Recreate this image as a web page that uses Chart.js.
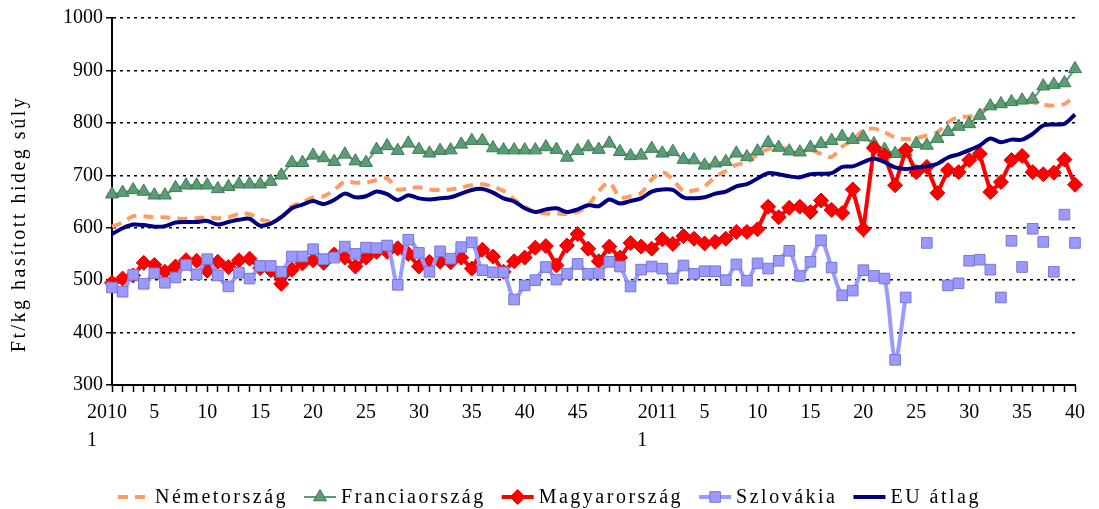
<!DOCTYPE html>
<html>
<head>
<meta charset="utf-8">
<script src="https://cdn.jsdelivr.net/npm/chart.js@4.4.0/dist/chart.umd.min.js"></script>
<style>
  html, body { margin: 0; padding: 0; background: #fff; }
  #wrap { width: 1099px; height: 509px; }
</style>
</head>
<body>
<div id="wrap"><canvas id="grafikon"></canvas></div>
<script>
// hetek: 2010/1 - 2011/40
var hetek = [
  '2010 1', '', '', '', '5', '', '', '', '', '10',
  '', '', '', '', '15', '', '', '', '', '20',
  '', '', '', '', '25', '', '', '', '', '30',
  '', '', '', '', '35', '', '', '', '', '40',
  '', '', '', '', '45', '', '', '', '', '',
  '', '', '2011 1', '', '', '', '5', '', '', '',
  '', '10', '', '', '', '', '15', '', '', '',
  '', '20', '', '', '', '', '25', '', '', '',
  '', '30', '', '', '', '', '35', '', '', '',
  '', '40'
];

var nemet = [
  602, 610, 622, 622, 620, 620, 618, 617, 618, 620,
  618, 620, 626, 626, 616, 613, 621, 641, 648, 658,
  660, 672, 688, 686, 686, 691, 694, 673, 675, 677,
  673, 672, 673, 677, 681, 683, 678, 670, 654, 640,
  630, 627, 627, 626, 630, 643, 670, 686, 658, 660,
  666, 692, 706, 692, 670, 671, 679, 697, 708, 720,
  724, 740, 750, 752, 750, 744, 748, 741, 735, 755,
  767, 786, 789, 782, 772, 769, 771, 776, 782, 801,
  811, 812, 820, 830, 835, 839, 843, 839, 835, 833,
  836, 852
];

var francia = [
  664, 667, 672, 669, 662, 662, 676, 681, 681, 681,
  674, 678, 683, 683, 683, 688, 700, 724, 724, 738,
  733, 726, 740, 727, 724, 749, 756, 747, 761, 749,
  742, 747, 748, 759, 766, 766, 752, 748, 748, 748,
  748, 754, 749, 734, 747, 754, 749, 761, 745, 737,
  738, 751, 742, 745, 730, 729, 719, 723, 726, 742,
  735, 746, 762, 753, 746, 744, 753, 760, 766, 774,
  768, 773, 760, 749, 741, 744, 760, 757, 770, 783,
  793, 798, 814, 832, 836, 840, 843, 845, 870, 873,
  876, 903
];

var magyar = [
  495, 503, 509, 533, 529, 516, 526, 538, 537, 518,
  535, 525, 538, 541, 523, 519, 493, 520, 532, 538,
  533, 549, 543, 526, 543, 554, 554, 561, 550, 526,
  535, 535, 534, 543, 522, 558, 545, 516, 536, 543,
  562, 565, 528, 566, 588, 560, 536, 564, 543, 571,
  564, 560, 578, 569, 584, 579, 570, 573, 579, 592,
  592, 597, 640, 620, 638, 640, 630, 652, 634, 628,
  673, 597, 752, 738, 681, 748, 706, 716, 666, 710,
  706, 729, 741, 668, 687, 729, 737, 706, 702, 705,
  730, 682
];

var szlovak = [
  486, 478, 510, 493, 513, 495, 505, 529, 511, 540,
  509, 488, 514, 503, 527, 527, 516, 545, 545, 559,
  540, 543, 564, 550, 562, 561, 566, 491, 577, 552,
  516, 555, 541, 563, 572, 519, 515, 515, 463, 490,
  500, 525, 501, 512, 531, 512, 513, 535, 526, 488,
  520, 526, 522, 503, 528, 512, 517, 517, 500, 530,
  499, 532, 522, 537, 556, 508, 535, 576, 524, 471,
  480, 519, 508, 503, 348, 467, null, 571, null, 490,
  494, 537, 539, 520, 467, 575, 525, 598, 573, 516,
  625, 571
];

var euAtlag = [
  588, 599, 606, 605, 602, 603, 610, 611, 611, 613,
  606, 611, 615, 617, 604, 608, 620, 637, 644, 651,
  645, 653, 665, 658, 660, 669, 664, 653, 662, 656,
  654, 656, 658, 665, 672, 674, 667, 656, 650, 637,
  630, 635, 637, 630, 635, 643, 641, 654, 646, 651,
  656, 669, 673, 672, 658, 656, 658, 665, 669, 679,
  683, 694, 704, 702, 698, 696, 702, 703, 704, 716,
  717, 725, 732, 725, 715, 712, 715, 717, 722, 734,
  740, 748, 757, 770, 763, 768, 768, 779, 795, 797,
  798, 816
];

var betu = '"Liberation Serif", "Times New Roman", serif';
Chart.defaults.font.family = betu;
Chart.defaults.font.size = 20;
Chart.defaults.color = '#000';

var ritkitas = '2.5px'; // a feliratok betűközei szélesebbek az eredetin

// Excel-szerű jelmagyarázat: vonal + jelölő
function jelolo(ctx, stilus, x, y, r) {
  ctx.beginPath();
  if (stilus === 'triangle') {
    ctx.moveTo(x, y - r);
    ctx.lineTo(x + 0.866 * r, y + 0.5 * r);
    ctx.lineTo(x - 0.866 * r, y + 0.5 * r);
  } else if (stilus === 'rectRot') {
    ctx.moveTo(x, y - r);
    ctx.lineTo(x + r, y);
    ctx.lineTo(x, y + r);
    ctx.lineTo(x - r, y);
  } else {
    var s = r * Math.SQRT1_2;
    ctx.rect(x - s, y - s, 2 * s, 2 * s);
  }
  ctx.closePath();
  ctx.fill();
  ctx.stroke();
}

var jelmagyarazat = {
  id: 'jelmagyarazat',
  beforeDraw: function(chart) {
    chart.ctx.letterSpacing = ritkitas;   // tengelycím
  },
  beforeDatasetsDraw: function(chart) {
    chart.ctx.letterSpacing = '0px';      // számok normál közzel
  },
  afterDraw: function(chart) {
    var ctx = chart.ctx;
    var y = 497;
    var minta = 32, res = 5, koz = 16;
    ctx.save();
    ctx.font = '20px ' + betu;
    ctx.letterSpacing = ritkitas;
    ctx.textBaseline = 'middle';
    var ds = chart.data.datasets;
    var teljes = 0;
    ds.forEach(function(d, i) {
      teljes += minta + res + ctx.measureText(d.label).width + (i < ds.length - 1 ? koz : 0);
    });
    var x = (chart.width - teljes) / 2;
    ds.forEach(function(d) {
      ctx.strokeStyle = d.borderColor;
      ctx.lineWidth = d.borderWidth;
      ctx.setLineDash(d.borderDash || []);
      ctx.beginPath();
      ctx.moveTo(x, y);
      ctx.lineTo(x + minta, y);
      ctx.stroke();
      ctx.setLineDash([]);
      if (d.pointRadius > 0) {
        ctx.fillStyle = d.pointBackgroundColor;
        ctx.strokeStyle = d.pointBorderColor;
        ctx.lineWidth = d.pointBorderWidth;
        jelolo(ctx, d.pointStyle, x + minta / 2, y, d.pointRadius);
      }
      ctx.fillStyle = '#000';
      ctx.fillText(d.label, x + minta + res, y + 1);
      x += minta + res + ctx.measureText(d.label).width + koz;
    });
    ctx.restore();
    ctx.letterSpacing = '0px';
  }
};

var grafikon = new Chart(document.getElementById('grafikon'), {
  type: 'line',
  data: {
    labels: hetek,
    datasets: [{
      label: 'Németország',
      data: nemet,
      borderColor: '#FF9C66',
      borderWidth: 4,
      borderDash: [10, 7],
      pointRadius: 0,
      tension: 0.3,
      order: 5
    }, {
      label: 'Franciaország',
      data: francia,
      borderColor: '#5A9C74',
      borderWidth: 2,
      pointStyle: 'triangle',
      pointRadius: 7.5,
      pointBackgroundColor: '#5A9C74',
      pointBorderColor: '#3E7A55',
      pointBorderWidth: 1,
      tension: 0,
      order: 4
    }, {
      label: 'Magyarország',
      data: magyar,
      borderColor: '#FF0000',
      borderWidth: 4,
      pointStyle: 'rectRot',
      pointRadius: 7.5,
      pointBackgroundColor: '#FF0000',
      pointBorderColor: '#E00000',
      pointBorderWidth: 1,
      tension: 0,
      order: 3
    }, {
      label: 'Szlovákia',
      data: szlovak,
      borderColor: '#9999FF',
      borderWidth: 4,
      pointStyle: 'rect',
      pointRadius: 7.5,
      pointBackgroundColor: '#9999FF',
      pointBorderColor: '#7878D0',
      pointBorderWidth: 1,
      tension: 0.3,
      // 2011/25. hét után csak jelölők
      segment: {
        borderColor: function(ctx) { return ctx.p0DataIndex >= 76 ? 'rgba(0,0,0,0)' : undefined; }
      },
      order: 2
    }, {
      label: 'EU átlag',
      data: euAtlag,
      borderColor: '#000080',
      borderWidth: 4,
      pointRadius: 0,
      tension: 0.3,
      order: 1
    }]
  },
  options: {
    responsive: true,
    maintainAspectRatio: false,
    animation: false,
    layout: { padding: { left: 0, right: 24, top: 18, bottom: 50 } },
    datasets: { line: { clip: false, spanGaps: false } },
    scales: {
      x: {
        grid: {
          display: true,
          drawOnChartArea: false,
          drawTicks: true,
          tickLength: 7,
          tickColor: '#000',
          tickWidth: 1.5
        },
        border: { display: true, color: '#000', width: 2 },
        ticks: {
          autoSkip: false,
          maxRotation: 0,
          minRotation: 0,
          padding: 7,
          z: 1,
          font: { size: 20, lineHeight: 1.4 },
          callback: function(v) {
            var c = this.getLabelForValue(v);
            if (c.indexOf(' ') > 0) {
              var r = c.split(' ');
              return [r[0] + '  ', r[1] + '        '];
            }
            return c;
          }
        },
        afterFit: function(scale) { scale.height = 74; }
      },
      y: {
        min: 300,
        max: 1000,
        grid: {
          color: '#000',
          lineWidth: 1.5,
          tickColor: '#000',
          tickWidth: 1.5,
          tickLength: 6
        },
        border: { display: true, color: '#000', width: 2, dash: [3, 4] },
        ticks: {
          stepSize: 100,
          padding: 3,
          z: 1,
          callback: function(v) { return String(v); }
        },
        title: {
          display: true,
          text: 'Ft/kg hasított hideg súly      ',
          font: { size: 20 },
          padding: { top: 8, bottom: 0 }
        },
        afterFit: function(scale) { scale.width = 112; }
      }
    },
    plugins: {
      legend: { display: false },
      tooltip: { enabled: false }
    }
  },
  plugins: [jelmagyarazat]
});
</script>
</body>
</html>
